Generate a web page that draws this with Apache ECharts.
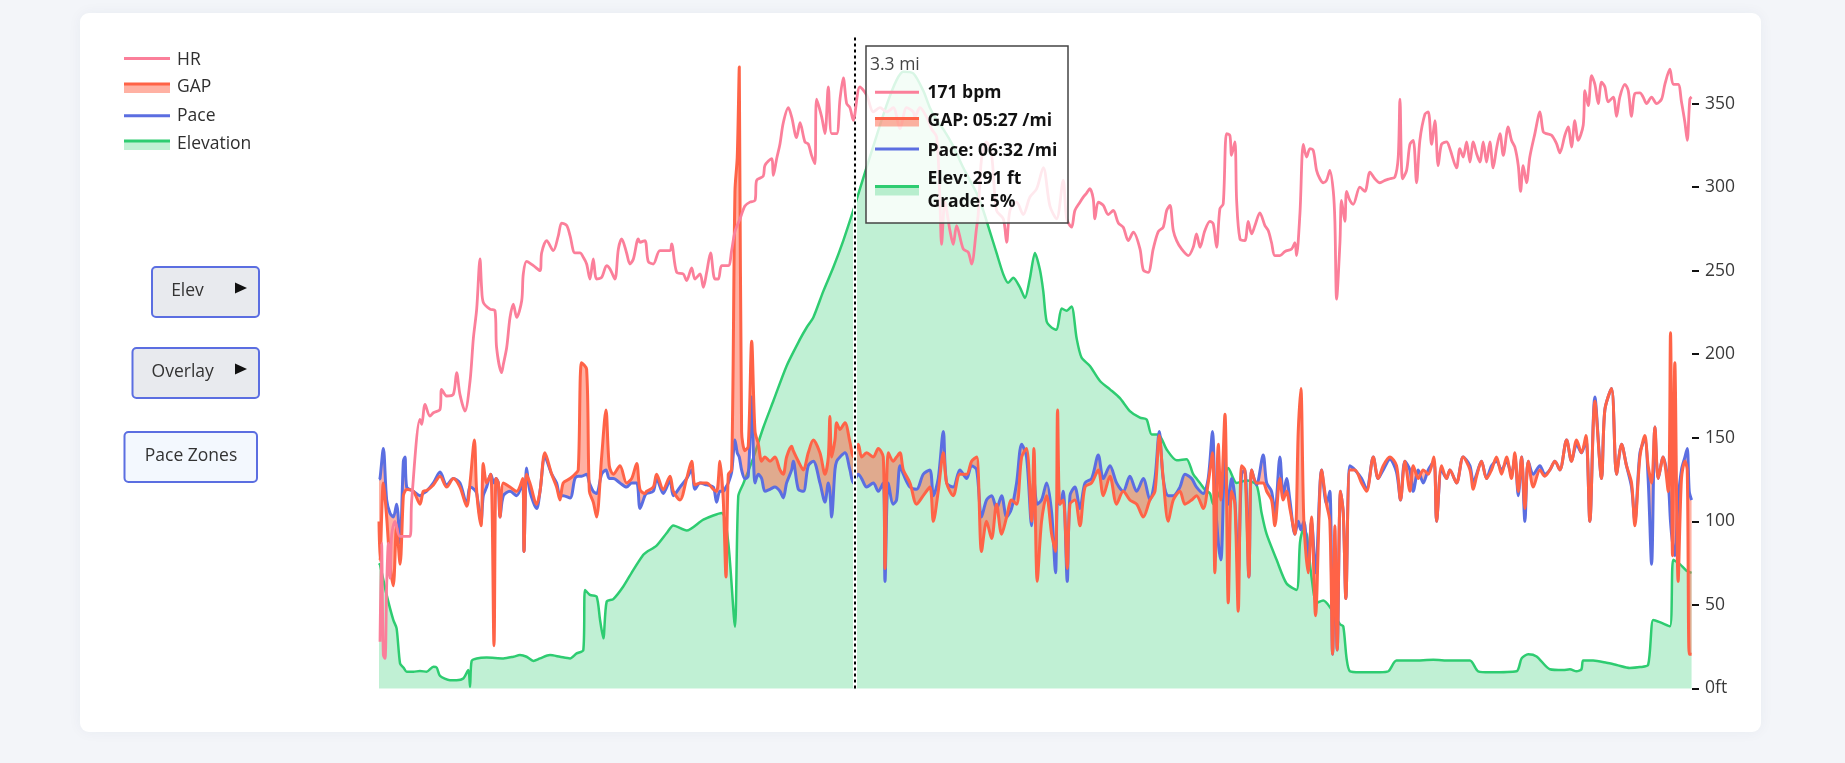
<!DOCTYPE html>
<html><head><meta charset="utf-8">
<script src="https://cdn.jsdelivr.net/npm/echarts@6/dist/echarts.min.js"></script>
<style>html,body{margin:0;padding:0;background:#f3f5f9;overflow:hidden}#c{width:1845px;height:763px}</style>
</head><body><div id="c"></div>
<script>
// ---------- DATA (distance in miles) ----------
const elevMi = [0,0.007,0.053,0.099,0.122,0.146,0.169,0.192,0.238,0.284,0.330,0.377,0.400,0.423,0.492,0.538,0.584,0.619,0.631,0.642,0.677,0.746,0.862,0.931,0.977,1.023,1.070,1.116,1.185,1.254,1.324,1.370,1.416,1.428,1.462,1.508,1.532,1.555,1.578,1.624,1.693,1.763,1.832,1.855,1.924,1.994,2.040,2.132,2.248,2.375,2.421,2.467,2.490,2.525,2.594,2.663,2.733,2.825,2.918,2.964,3.010,3.079,3.149,3.218,3.287,3.333,3.426,3.518,3.587,3.634,3.703,3.772,3.818,3.865,3.911,3.980,4.049,4.142,4.188,4.234,4.280,4.327,4.361,4.396,4.442,4.477,4.511,4.546,4.581,4.604,4.627,4.662,4.696,4.731,4.766,4.800,4.835,4.869,4.927,4.997,5.066,5.135,5.204,5.274,5.320,5.355,5.401,5.459,5.528,5.597,5.643,5.690,5.724,5.759,5.782,5.828,5.886,5.944,6.013,6.082,6.117,6.152,6.221,6.290,6.359,6.383,6.406,6.429,6.463,6.498,6.544,6.590,6.660,6.683,6.706,6.729,6.798,6.937,6.995,7.052,7.168,7.307,7.422,7.561,7.618,7.699,7.884,7.919,7.965,8.023,8.115,8.207,8.254,8.300,8.334,8.346,8.415,8.508,8.577,8.669,8.739,8.796,8.831,8.877,8.947,8.970,9.016,9.062,9.097];
const elevFt = [75,74,56,41,36,15,12.6,10,10,10.5,10,13,12.5,7.5,5,5,6,11,1,16.5,18,18.5,18,19,20,19,16.5,18,20,19,18,21,23,59,56,55,41,30,52,53.5,61,71,80,81.7,85.5,93,97.5,94.5,101,105,87,37,115,122.6,138,156,172,193,209,216,222,237.6,252,268,286,299,324.5,349,364,369,368,357.7,347.5,340,334.7,324.5,311.7,296.4,286,273.4,260.6,247.8,242.7,245.8,240,233.7,245.3,260.6,250.4,237.6,219.7,215.9,214.6,227.4,226,228.6,209.5,198,193,184,179,173.7,166,162,161,152,152,143,136.6,137.2,128.2,123,119,116.7,110.3,118,132,123,124.4,121.8,105,92.3,77,62.8,59,87.2,94.9,92.3,66.7,51.3,52.6,48.7,38.5,37.2,18,10.3,9.7,9.7,10.3,16.7,16.7,17.2,16.7,16.7,10.3,9.7,10.3,18,20.5,19.2,11.5,11,11.5,10.3,11.5,16.7,16.7,15.4,14.1,12.3,12.8,14.1,41,39.7,37.2,77,74.4,70.5,69.2];

const hrMi = [0.007,0.018,0.030,0.042,0.053,0.065,0.076,0.088,0.111,0.146,0.215,0.226,0.284,0.296,0.319,0.353,0.377,0.423,0.434,0.469,0.515,0.538,0.561,0.596,0.631,0.654,0.677,0.700,0.711,0.723,0.769,0.804,0.815,0.850,0.862,0.885,0.908,0.931,0.954,0.989,1.000,1.023,1.070,1.116,1.127,1.162,1.208,1.243,1.266,1.301,1.324,1.358,1.393,1.416,1.439,1.462,1.485,1.508,1.543,1.578,1.601,1.635,1.659,1.682,1.716,1.739,1.763,1.797,1.809,1.843,1.866,1.901,1.947,2.017,2.028,2.063,2.109,2.132,2.167,2.190,2.225,2.248,2.271,2.298,2.328,2.352,2.375,2.421,2.444,2.467,2.502,2.536,2.571,2.606,2.617,2.663,2.675,2.721,2.733,2.756,2.779,2.802,2.837,2.860,2.894,2.918,2.952,2.975,2.998,3.021,3.033,3.068,3.091,3.114,3.137,3.172,3.195,3.218,3.241,3.264,3.287,3.333,3.380,3.426,3.472,3.518,3.564,3.611,3.657,3.703,3.714,3.749,3.795,3.830,3.865,3.888,3.899,3.922,3.957,3.980,4.003,4.049,4.084,4.107,4.142,4.153,4.176,4.211,4.246,4.280,4.327,4.350,4.373,4.419,4.465,4.511,4.558,4.604,4.650,4.696,4.742,4.766,4.800,4.823,4.858,4.881,4.904,4.927,4.950,4.962,4.985,5.020,5.054,5.089,5.124,5.158,5.193,5.228,5.274,5.297,5.331,5.366,5.401,5.435,5.459,5.482,5.505,5.528,5.562,5.609,5.643,5.666,5.690,5.724,5.759,5.782,5.805,5.828,5.851,5.874,5.897,5.909,5.932,5.944,5.967,6.001,6.024,6.048,6.071,6.105,6.140,6.163,6.186,6.209,6.244,6.279,6.325,6.348,6.359,6.383,6.406,6.429,6.452,6.475,6.498,6.521,6.544,6.567,6.590,6.614,6.625,6.637,6.660,6.671,6.694,6.706,6.729,6.752,6.798,6.833,6.868,6.902,6.937,6.972,7.006,7.041,7.064,7.076,7.094,7.122,7.145,7.168,7.191,7.214,7.249,7.272,7.295,7.318,7.341,7.364,7.399,7.422,7.468,7.491,7.514,7.538,7.561,7.584,7.607,7.630,7.653,7.676,7.699,7.722,7.745,7.769,7.792,7.826,7.849,7.872,7.896,7.912,7.930,7.953,7.976,8.011,8.046,8.069,8.092,8.127,8.161,8.184,8.219,8.242,8.265,8.288,8.311,8.346,8.358,8.381,8.404,8.427,8.450,8.473,8.496,8.519,8.554,8.577,8.600,8.635,8.658,8.681,8.704,8.739,8.762,8.785,8.820,8.854,8.889,8.912,8.947,8.970,9.004,9.027,9.051,9.067,9.085,9.097];
const hrVal = [28,87,20,18,61,87,66,92,100,91,91,112,161,158,170,163,165,167,179,175,176,189,176,166,184,209.5,227,257,240,231,227,226,204,189,194,204,222,230,222,232,248,255.5,253,250,260.6,268,262,271,278.5,277,271,260.6,260.6,258,254,245,257,245,246,253,251,245,263,269,260.6,254,257,269,267,268,255.5,254,262,262,266,249,248,244,251.6,245,248,240,249,260.6,245,245,253,253,262,273.4,281,288.7,291,292,304,306.6,313,317,307,317,325.8,338.5,347.5,342,329.6,338.5,327,325.8,319,314,352.6,342,332,360,332,332,352.6,365.4,350,347.5,340,360,355,345,347.5,345,347.5,335,347.5,345,342,347.5,342,334.7,330,291,265.7,291,274,265.7,277,263,261,254,276,283.6,317,327,319,286,281,267,286,291,283.6,294,299,311.7,288.7,281,304,281,276,286,291,294,296.4,299,293,281,291,289,283.6,286,278.5,276,268,273,263,250.4,249,263,273.4,276,286,289,274,268,263,259,264,272,264,274,279.5,278,264,287,290,332,331,319,327,292,269,268,279.5,272,277,284.6,277,274,266.7,259,259,261.5,263,266.7,259,284.6,325.6,318,323,322,310,305,302.6,304,310,297.4,279.5,233,266.7,292,279.5,297.4,292,289.7,300,297.4,309,305,302.6,304,305,306,318,352.6,305,310,325.6,328,302.6,328,343.6,345,325.6,339.7,312.8,325.6,327,323,311.5,323,318,327,315,327,320,315,327,315,327,311.5,323,332,319,336,328,324,312.8,297.4,312.8,302.6,318,332,345,333,332,331,326,320.5,331,336,324,339.7,328,337,357.7,348.7,366.7,361.5,350,362.8,360,351,353.8,342.3,354,361.5,357.7,342.3,356,356.4,353.8,350,353.8,350,352.6,361.5,370.5,361.5,361.5,351,338.5,328,352.6,354];

const runMi = [0,0.007,0.030,0.053,0.076,0.099,0.122,0.146,0.169,0.180,0.192,0.238,0.284,0.307,0.330,0.377,0.423,0.469,0.515,0.561,0.608,0.631,0.661,0.677,0.707,0.723,0.746,0.774,0.797,0.811,0.827,0.839,0.862,0.908,0.954,0.996,1.005,1.023,1.046,1.093,1.116,1.150,1.197,1.231,1.254,1.277,1.324,1.358,1.381,1.404,1.439,1.458,1.485,1.508,1.543,1.573,1.596,1.624,1.670,1.716,1.751,1.786,1.809,1.843,1.855,1.901,1.924,1.970,2.017,2.040,2.086,2.132,2.167,2.190,2.225,2.271,2.317,2.340,2.363,2.386,2.405,2.421,2.444,2.467,2.483,2.497,2.513,2.536,2.559,2.583,2.606,2.629,2.652,2.675,2.710,2.744,2.779,2.802,2.825,2.860,2.871,2.906,2.941,2.975,3.010,3.056,3.091,3.114,3.125,3.137,3.160,3.172,3.195,3.229,3.264,3.287,3.322,3.345,3.380,3.426,3.460,3.495,3.507,3.530,3.564,3.587,3.611,3.634,3.680,3.726,3.772,3.818,3.842,3.876,3.911,3.934,3.980,4.026,4.073,4.107,4.142,4.176,4.211,4.246,4.280,4.315,4.350,4.384,4.419,4.454,4.488,4.523,4.539,4.562,4.592,4.627,4.662,4.689,4.703,4.719,4.742,4.770,4.789,4.823,4.858,4.893,4.939,4.985,5.020,5.066,5.112,5.158,5.204,5.251,5.297,5.343,5.378,5.408,5.435,5.470,5.505,5.551,5.586,5.632,5.666,5.713,5.747,5.777,5.793,5.817,5.835,5.863,5.886,5.909,5.932,5.955,5.978,6.001,6.029,6.048,6.082,6.128,6.152,6.186,6.209,6.244,6.267,6.290,6.313,6.348,6.371,6.389,6.410,6.440,6.463,6.491,6.533,6.567,6.590,6.609,6.625,6.641,6.664,6.683,6.701,6.729,6.764,6.810,6.845,6.891,6.925,6.960,7.006,7.052,7.080,7.110,7.145,7.168,7.203,7.237,7.272,7.311,7.330,7.364,7.399,7.422,7.468,7.514,7.561,7.584,7.607,7.641,7.676,7.711,7.745,7.780,7.815,7.849,7.872,7.896,7.919,7.942,7.965,8.000,8.046,8.080,8.115,8.150,8.184,8.231,8.265,8.300,8.334,8.365,8.392,8.427,8.473,8.496,8.542,8.577,8.612,8.646,8.681,8.704,8.739,8.773,8.796,8.820,8.843,8.866,8.900,8.935,8.951,8.965,8.981,9.004,9.027,9.051,9.067,9.081,9.097];
const paceVal = [125,125.6,143.6,112.8,105,102.6,110.3,87.2,136,138.5,120.5,118,115.4,116.7,118,123,129.5,121.8,125.6,123,110.3,120.5,119,116.7,100,115.4,120.5,128.2,123,125.6,123,102.6,115.4,118,115.4,123,82,132,118,107.7,118,138.5,128.2,123,115.4,115.4,114,125.6,127,127,128.2,123,118,116.7,128.2,130.8,125.6,125.6,123,120.5,123,123,107.7,115.4,116.7,118,125.6,116.7,124.4,115.4,120.5,125.6,130.8,119.2,123,121.8,120.5,111.5,118,118,120.5,123,129.5,148.7,141,138.5,130.8,125.6,127,174.4,123,128.2,125.6,118,119.2,120.5,118,114,123,130.8,136,119.2,118,133.3,136,123,111.5,123,118,102.6,130.8,136,138.5,141,130.8,123,128.2,125.6,120.5,123,118,123,64.1,123,110.3,112.8,133.3,128.2,120.5,119.2,128.2,130.8,115.4,125.6,153.8,123,120.5,130.8,125.6,133.3,130.8,102.6,112.8,115.4,107.7,115.4,102.6,107.7,123,146.2,138.5,97.4,125.6,110.3,112.8,123,105,69.2,112.8,110.3,118,64.1,115.4,120.5,107.7,123,125.6,139.7,125.6,133.3,123,118,127,118,125.6,112.8,125.6,153.8,125.6,115.4,115.4,120.5,128.2,125.6,120.5,116.7,125.6,153.8,118,87.2,77,138.5,110.3,125.6,112.8,69.2,128.2,130.8,66.7,130.8,121.8,139.7,123,118,105,138.5,115.4,125.6,112.8,92.3,100,94.9,100,77,100,69.2,130.8,110.3,118,20.5,77,23,118,105,53.8,133.3,130.8,125.6,119.2,138.5,125.6,130.8,137.2,129.5,112.8,136,130.8,118,130.8,123,130.8,136,100,130.8,125.6,130.8,123,138.5,133.3,123,128.2,136,125.6,133.3,136,130.8,136,128.2,138.5,115.4,138.5,100,136,128.2,133.3,128.2,130.8,136,130.8,148.7,136,146.2,141,148.7,100,174.4,125.6,166.7,179.5,128.2,146.2,133.3,120.5,100,141,148.7,125.6,74.4,156.4,125.6,138.5,123,100,87.2,79.5,112.8,130.8,138.5,143.6,117.9,112.8];
const gapVal = [100,76.5,123,102.6,74.4,61.5,97.4,74.4,115.4,118,119,118,110.3,118,118.5,121.8,127,120.5,125.6,120.5,109,123,148.7,118,97.4,134.6,123,128.2,25.6,125.6,123,102.6,123,120.5,118,125.6,82,128.2,123,110.3,118,141,128.2,120.5,112.8,123,125.6,128.2,130.8,194.9,191,118,111.5,102.6,138.5,166.7,133.3,128.2,133.3,123,125.6,134.6,119,116.7,118,120.5,128.2,119,127,118,112.8,125.6,136,121.8,123,123,119.2,118,136,112.8,66.7,128.2,130.8,297.4,318,371.8,153.8,142.3,144.9,207.7,153.8,146.2,136,138.5,136,138.5,130.8,128.2,138.5,144.9,142.3,136,130.8,141,148.7,141,128.2,138.5,162.8,138.5,148.7,159,155,159,147.4,138.5,146.2,138.5,141,138.5,143.6,138.5,71.8,141,136,138.5,141,130.8,123,110.3,115.4,120.5,100,118,141,123,115.4,128.2,128.2,136,138.5,82,100,89.7,110.3,92.3,102.6,112.8,110.3,138.5,143.6,100,143.6,64.1,100,115.4,92.3,82,166.7,110.3,112.8,71.8,110.3,112.8,97.4,120.5,123,130.8,115.4,127,110.3,118,112.8,110.3,102.6,112.8,118,151.3,125.6,100,112.8,118,110.3,112.8,115.4,107.7,123,141,69.2,146.2,112.8,164.1,51.3,118,110.3,46.2,133.3,130.8,66.7,130.8,123,123,118,112.8,97.4,125.6,112.8,118,107.7,92.3,153.8,179.5,100,69.2,102.6,43.6,130.8,110.3,100,20.5,97.4,23,118,105,53.8,130.8,130.8,123,118,138.5,125.6,133.3,138.5,133.3,112.8,136,118,133.3,125.6,130.8,128.2,138.5,100,133.3,125.6,130.8,123,138.5,130.8,119.2,127,136,125.6,130.8,138.5,128.2,138.5,125.6,141,117.9,138.5,107.7,136,120.5,130.8,127,130.8,136,130.8,148.7,136,148.7,141,151.3,100,171.8,125.6,166.7,179.5,128.2,146.2,133.3,123,97.4,138.5,151.3,133.3,123,156.4,125.6,138.5,117.9,212.8,79.5,194.9,64.1,125.6,136,130.8,20.5,20.5];

const yTicks = [0, 50, 100, 150, 200, 250, 300, 350];
const legendNames = ['HR', 'GAP', 'Pace', 'Elevation'];
const buttonLabels = ['Elev', 'Overlay', 'Pace Zones'];
const hoverMi = 3.3;
const hoverTitle = '3.3 mi';
const hoverRows = ['171 bpm', 'GAP: 05:27 /mi', 'Pace: 06:32 /mi', 'Elev: 291 ft', 'Grade: 5%'];

// ---------- STYLE ----------
const C = {
  hr: '#fb7f9a', gap: '#ff6347', gapFill: 'rgba(255,99,71,0.5)',
  pace: '#5b6ee1', elev: '#2ecc71', elevFill: 'rgba(46,204,113,0.3)'
};
const FONT = '"Open Sans", "Noto Sans", sans-serif';
const zip = (xs, ys) => xs.map((x, i) => [x, ys[i]]);

const chart = echarts.init(document.getElementById('c'), null, { renderer: 'canvas' });

function txt(t, x, y, o) {
  o = o || {};
  return { type: 'text', z: 100, silent: true, style: {
    text: t, x: x, y: y, fill: o.fill || '#2f2f2f',
    fontSize: o.size || 17.5, fontFamily: FONT, fontWeight: o.weight || 'normal',
    align: o.align || 'left', verticalAlign: 'middle' } };
}
function hline(x1, x2, y, color, w) {
  return { type: 'line', z: 100, silent: true, shape: { x1: x1, y1: y, x2: x2, y2: y },
    style: { stroke: color, lineWidth: w || 3 } };
}
function frect(x, y, w, h, fill) {
  return { type: 'rect', z: 100, silent: true, shape: { x: x, y: y, width: w, height: h }, style: { fill: fill } };
}

const graphics = [];
// card
graphics.push({ type: 'rect', z: -10, silent: true, shape: { x: 80, y: 13, width: 1681, height: 719, r: 9 },
  style: { fill: '#ffffff', shadowBlur: 14, shadowColor: 'rgba(40,50,90,0.05)' } });

// legend
graphics.push(hline(124, 170, 58.5, C.hr, 3), txt(legendNames[0], 177, 60));
graphics.push(frect(124, 84, 46, 9, C.gapFill), hline(124, 170, 84, C.gap, 3), txt(legendNames[1], 177, 87.5));
graphics.push(hline(124, 170, 115.7, C.pace, 3), txt(legendNames[2], 177, 116));
graphics.push(frect(124, 141, 46, 9, C.elevFill), hline(124, 170, 141, C.elev, 3), txt(legendNames[3], 177, 144));

// buttons
const btns = [
  { x: 152, y: 267, w: 107, h: 50, fill: '#e8eaee', tx: 187.5, arrow: true },
  { x: 132.5, y: 348, w: 126.5, h: 50, fill: '#e8eaee', tx: 182.7, arrow: true },
  { x: 124.5, y: 432, w: 132.5, h: 50, fill: '#f3f8fe', tx: 191, arrow: false }
];
btns.forEach((b, i) => {
  graphics.push({ type: 'rect', z: 100, silent: true, shape: { x: b.x, y: b.y, width: b.w, height: b.h, r: 4 },
    style: { fill: b.fill, stroke: '#5b6ee1', lineWidth: 2 } });
  graphics.push(txt(buttonLabels[i], b.tx, b.y + 24, { align: 'center', fill: '#333' }));
  if (b.arrow) {
    const cy = b.y + 21;
    graphics.push({ type: 'polygon', z: 100, silent: true,
      shape: { points: [[235, cy - 5.5], [247, cy], [235, cy + 5.5]] }, style: { fill: '#111' } });
  }
});

// hover box
graphics.push({ type: 'rect', z: 100, silent: true, shape: { x: 866, y: 46, width: 202, height: 177 },
  style: { fill: 'rgba(255,255,255,0.82)', stroke: '#444', lineWidth: 1.5 } });
graphics.push(txt(hoverTitle, 870, 65, { fill: '#444' }));
graphics.push(hline(875, 919, 92.3, C.hr, 3));
graphics.push(frect(875, 118.5, 44, 8, C.gapFill), hline(875, 919, 118.5, C.gap, 3));
graphics.push(hline(875, 919, 149, C.pace, 3));
graphics.push(frect(875, 186.5, 44, 9, C.elevFill), hline(875, 919, 186.5, C.elev, 3));
const rowY = [93.3, 121, 150.7, 179.3, 201.7];
hoverRows.forEach((t, i) => graphics.push(txt(t, 927.5, rowY[i], { weight: 'bold', fill: '#111' })));

const option = {
  animation: false,
  grid: { left: 379, right: 153, top: 35, bottom: 74.5 },
  xAxis: { type: 'value', min: 0, max: 9.1, show: false },
  yAxis: {
    type: 'value', position: 'right', min: 0, max: 391, interval: 50,
    axisLine: { show: false, onZero: false }, splitLine: { show: false },
    axisTick: { show: true, inside: false, length: 7, customValues: yTicks, lineStyle: { color: '#111', width: 2 } },
    axisLabel: { customValues: yTicks, margin: 13, color: '#3a3a3a', fontSize: 17.5, fontFamily: FONT,
      formatter: v => (v === 0 ? '0ft' : String(v)) }
  },
  series: [
    { name: 'Elevation', type: 'line', data: zip(elevMi, elevFt), symbol: 'none', smooth: 0.25,
      lineStyle: { color: C.elev, width: 2.5 }, areaStyle: { color: C.elevFill, opacity: 1 }, z: 1 },
    { name: 'GAP fill', type: 'custom', data: [[0, 0]], silent: true, clip: true, z: 2,
      renderItem: function (params, api) {
        const pts = [];
        for (let i = 0; i < runMi.length; i++) pts.push(api.coord([runMi[i], gapVal[i]]));
        for (let i = runMi.length - 1; i >= 0; i--) pts.push(api.coord([runMi[i], paceVal[i]]));
        return { type: 'polygon', shape: { points: pts, smooth: 0 }, style: { fill: C.gapFill } };
      } },
    { name: 'Pace', type: 'line', data: zip(runMi, paceVal), symbol: 'none', smooth: 0.3,
      lineStyle: { color: C.pace, width: 3, join: 'round' }, z: 3 },
    { name: 'GAP', type: 'line', data: zip(runMi, gapVal), symbol: 'none', smooth: 0.3,
      lineStyle: { color: C.gap, width: 3, join: 'round' }, z: 4 },
    { name: 'HR', type: 'line', data: zip(hrMi, hrVal), symbol: 'none', smooth: 0.3,
      lineStyle: { color: C.hr, width: 2.8, join: 'round' }, z: 5,
      markLine: { silent: true, symbol: 'none', animation: false, label: { show: false },
        data: [
          { xAxis: hoverMi, lineStyle: { color: '#ffffff', width: 4, type: 'solid' } },
          { xAxis: hoverMi, lineStyle: { color: '#000000', width: 2, type: [3, 3] } }
        ] } }
  ],
  graphic: { elements: graphics }
};
chart.setOption(option);
</script></body></html>
